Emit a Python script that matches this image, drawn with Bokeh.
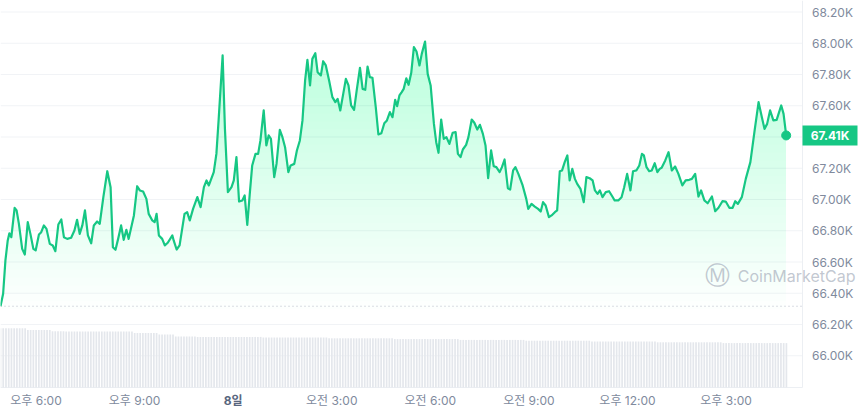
import numpy as np
from bokeh.plotting import figure
from bokeh.models import Range1d
from bokeh.embed import file_html
from bokeh.resources import INLINE

# ---- data (hours since 00:00 of the 7th, price in USD) ----
time_h = [16.92,17.00,17.07,17.14,17.19,17.25,17.35,17.41,17.48,17.58,17.66,17.75,17.83,17.92,17.99,18.09,18.16,18.24,18.32,18.42,
          18.51,18.59,18.68,18.77,18.85,18.95,19.07,19.17,19.25,19.33,19.41,19.49,19.58,19.68,19.76,19.86,19.94,20.05,20.17,20.27,
          20.34,20.42,20.50,20.59,20.67,20.75,20.82,
          20.98,21.08,21.16,21.26,21.36,21.43,21.54,21.61,21.67,21.74,21.84,21.92,22.01,22.15,22.19,22.28,22.37,22.52,22.60,22.68,
          22.78,22.91,23.01,23.11,23.19,23.26,23.41,23.49,23.56,23.68,23.75,23.84,23.95,24.02,24.10,24.18,24.28,24.35,24.43,24.51,
          24.58,24.68,24.76,24.83,24.93,
          25.01,25.08,25.15,25.25,25.32,25.42,25.50,25.58,25.68,25.75,25.86,25.94,26.03,26.11,26.19,26.26,26.34,26.41,26.50,26.57,
          26.67,26.74,26.82,26.92,27.02,27.11,27.18,27.26,27.35,27.43,27.51,27.59,27.68,27.76,27.86,27.94,28.02,28.09,28.16,28.24,
          28.34,28.42,28.51,28.60,28.68,28.77,28.85,28.93,
          28.99,29.06,29.13,29.19,29.27,29.34,29.42,29.50,29.58,29.67,29.74,29.84,29.92,30.01,30.11,30.18,30.25,30.33,30.41,30.49,
          30.58,30.68,30.77,30.84,30.92,30.99,31.09,31.16,31.26,31.34,31.43,31.51,31.60,31.68,31.76,31.85,31.93,32.01,32.11,32.18,
          32.26,32.36,32.43,32.52,32.59,32.68,32.81,32.92,32.98,
          33.08,33.18,33.28,33.36,33.43,33.51,33.61,33.69,33.79,33.86,33.94,34.01,34.09,34.17,34.24,34.32,34.40,34.47,34.57,34.67,
          34.75,34.85,34.94,35.01,35.09,35.16,35.24,35.34,35.44,35.54,35.61,35.72,35.82,35.90,35.99,36.09,36.17,36.27,36.36,36.44,
          36.50,36.58,36.66,36.74,36.83,36.91,36.98,
          37.04,37.15,37.25,37.35,37.45,37.55,37.67,37.77,37.88,37.96,38.06,38.16,38.24,38.34,38.44,38.57,38.67,38.77,38.89,38.99,
          39.10,39.20,39.28,39.36,39.48,39.60,39.74,39.87,39.99,40.09,40.17,40.25,40.34,40.44,40.54,40.68,40.75,40.83]

price = [66317,66397,66610,66738,66784,66759,66947,66930,66844,66684,66648,66855,66780,66684,66674,66776,66791,66834,66812,66716,
         66706,66669,66840,66872,66759,66748,66755,66802,66870,66780,66834,66930,66770,66720,66834,66859,66844,67015,67181,67079,
         66695,66678,66748,66834,66742,66806,66748,
         66898,67085,67058,67051,67004,66908,66866,66855,66908,66770,66748,66706,66723,66770,66738,66680,66706,66908,66919,66866,
         66940,67015,66951,67079,67122,67090,67175,67292,67516,67922,67452,67047,67079,67122,67271,66987,66994,67026,66838,67047,
         67218,67292,67292,67378,67570,
         67346,67410,67388,67143,67228,67446,67399,67335,67175,67218,67228,67314,67378,67506,67762,67894,67730,67900,67936,67815,
         67794,67885,67858,67762,67655,67623,67644,67570,67676,67772,67730,67602,67574,67698,67843,67708,67702,67851,67783,67779,
         67591,67416,67424,67488,67506,67559,67527,67638,
         67597,67666,67687,67708,67776,67734,67811,67975,67947,67858,67932,68011,67804,67730,67484,67367,67299,67512,67388,67399,
         67356,67427,67431,67292,67271,67320,67350,67399,67512,67491,67448,67478,67420,67346,67136,67314,67213,67207,67175,67207,
         67256,67072,67064,67186,67207,67164,67090,67004,66940,
         66972,66955,66940,66923,66983,66962,66887,66898,66919,66930,67181,67186,67239,67282,67122,67196,67132,67100,67068,66983,
         67143,67136,67122,67058,67036,67058,67015,67047,67053,67019,66994,66994,67015,67079,67164,67058,67181,67186,67218,67292,
         67282,67207,67181,67186,67232,67175,67196,
         67203,67250,67303,67186,67211,67164,67090,67122,67126,67132,67164,67019,67058,66994,66976,67019,66925,66947,66989,66987,
         66947,66947,66989,66972,67015,67132,67239,67442,67623,67527,67452,67484,67570,67506,67510,67602,67548,67410]

# 5-minute volume bars (billions USD), starting at the first price time
vol_start_h = 16.92
volume = [29.6,29.6,29.6,29.6,29.6,29.6,29.6,29.6,29.6,29.6,28.8,28.8,28.8,28.8,28.8,28.8,28.8,28.8,28.8,28.1,28.1,28.1,28.1,28.1,
          28.0,28.0,28.0,28.0,28.0,28.0,28.0,28.0,28.0,28.0,28.0,28.0,28.0,28.0,28.0,28.0,28.0,28.0,28.0,28.0,28.0,28.0,28.0,28.0,
          28.0,27.3,27.3,27.3,27.3,27.3,27.3,27.3,27.3,27.3,26.5,26.5,26.5,26.5,26.5,26.5,25.5,25.5,25.5,25.5,25.5,25.5,25.5,25.5,
          25.3,25.3,25.3,25.3,25.3,25.3,25.3,25.3,25.3,25.3,25.3,25.3,25.3,25.3,25.3,25.3,25.3,25.3,25.3,25.3,25.3,25.3,25.3,25.3,
          25.0,25.0,25.0,25.0,25.0,25.0,25.0,25.0,25.0,25.0,25.0,25.0,25.0,25.0,25.0,25.0,25.0,25.0,25.0,25.0,25.0,25.0,25.0,25.0,
          24.6,24.6,24.6,24.6,24.6,24.6,24.6,24.6,24.6,24.6,24.6,24.6,24.6,24.6,24.6,24.6,24.6,24.6,24.6,24.6,24.6,24.6,24.6,24.6,
          24.2,24.2,24.2,24.2,24.2,24.2,24.2,24.2,24.2,24.2,24.2,24.2,24.2,24.2,24.2,24.2,24.2,24.2,24.2,24.2,24.2,24.2,24.2,24.2,
          23.8,23.8,23.8,23.8,23.8,23.8,23.8,23.8,23.8,23.8,23.8,23.8,23.8,23.8,23.8,23.8,23.8,23.8,23.8,23.8,23.8,23.8,23.8,23.8,
          23.4,23.4,23.4,23.4,23.4,23.4,23.4,23.4,23.4,23.4,23.4,23.4,23.4,23.4,23.4,23.4,23.4,23.4,23.4,23.4,23.4,23.4,23.4,23.4,
          23.0,23.0,23.0,23.0,23.0,23.0,23.0,23.0,23.0,23.0,23.0,23.0,23.0,23.0,23.0,23.0,23.0,23.0,23.0,23.0,23.0,23.0,23.0,23.0,
          22.6,22.6,22.6,22.6,22.6,22.6,22.6,22.6,22.6,22.6,22.6,22.6,22.6,22.6,22.6,22.6,22.6,22.6,22.6,22.6,22.6,22.6,22.6,22.6,
          22.2,22.2,22.2,22.2,22.2,22.2,22.2,22.2,22.2,22.2,22.2,22.2,22.2,22.2,22.2,22.2,22.2,22.2,22.2,22.2,22.2,22.2,22.2,22.2]

y_ticks = [66000, 66200, 66400, 66600, 66800, 67000, 67200, 67400, 67600, 67800, 68000, 68200]
y_tick_labels = ["66.00K", "66.20K", "66.40K", "66.60K", "66.80K", "67.00K", "67.20K", "67.40K", "67.60K", "67.80K", "68.00K", "68.20K"]
x_ticks = [18, 21, 24, 27, 30, 33, 36, 39]
x_tick_labels = ["오후 6:00", "오후 9:00", "8일", "오전 3:00", "오전 6:00", "오전 9:00", "오후 12:00", "오후 3:00"]
last_label = "67.41K"
watermark = "CoinMarketCap"

# ---- layout / styling ----
GREEN = "#16c784"
FONT = "Inter, 'Noto Sans CJK KR', sans-serif"
LABEL_C = "#808a9d"
W, H = 860, 412
PX_X = 0.030432            # hours per pixel
PX_Y = 6.4                 # USD per pixel
X0 = time_h[0]             # plot area starts at canvas left
X_PLOT_END = X0 + 802 * PX_X
X_CANVAS_END = X0 + W * PX_X
Y_TOP = 68273.6
Y_BOTTOM = Y_TOP - H * PX_Y
Y_PLOT_BOTTOM = Y_TOP - 387 * PX_Y
VOL_PX = 2.0               # pixels per billion
vol_lo = -(H - 387) / VOL_PX

def px_x(n):
    return n * PX_X

def px_y(n):
    return n * PX_Y

p = figure(width=W, height=H, output_backend="svg", toolbar_location=None,
           x_range=Range1d(X0, X_CANVAS_END), y_range=Range1d(Y_BOTTOM, Y_TOP),
           x_axis_location=None, y_axis_location=None, min_border=0,
           background_fill_color="white", border_fill_color="white")
p.outline_line_color = None
p.grid.visible = False
p.extra_y_ranges = {"vol": Range1d(vol_lo, vol_lo + H / VOL_PX)}

# horizontal grid lines limited to the plot area
p.segment(x0=[X0] * len(y_ticks), x1=[X_PLOT_END] * len(y_ticks), y0=y_ticks, y1=y_ticks,
          line_color="#f1f3f6", line_width=1)
# frame borders (right and bottom)
p.segment(x0=[X_PLOT_END, X0], x1=[X_PLOT_END, X_PLOT_END], y0=[Y_PLOT_BOTTOM, Y_PLOT_BOTTOM],
          y1=[Y_TOP, Y_PLOT_BOTTOM], line_color="#eceff3", line_width=1)

# volume bars
vol_t = [vol_start_h + i * 5 / 60 for i in range(len(volume))]
p.vbar(x=vol_t, top=volume, bottom=0, width=5 / 60 * 0.62, y_range_name="vol",
       fill_color="#e4e7ec", line_color=None)

t = np.array(time_h)
pr = np.array(price, dtype=float)

# gradient fill under the line
levels = np.linspace(66300, 68250, 40)
for L in levels:
    p.varea(x=t, y1=np.full_like(pr, L), y2=np.maximum(pr, L), fill_color=GREEN, fill_alpha=0.0085)

# open-price dotted reference
p.segment(x0=[X0], x1=[X_PLOT_END], y0=[price[0]], y1=[price[0]], line_color="#b4bbc8",
          line_width=1, line_dash="1 3")

p.line(t, pr, line_color=GREEN, line_width=2.2, line_join="round")
p.scatter([time_h[-1]], [price[-1]], size=9, color=GREEN)

# y tick labels (right side)
p.text(x=[X_PLOT_END + px_x(9.5)] * len(y_ticks), y=y_ticks, text=y_tick_labels,
       text_align="left", text_baseline="middle", text_font={"value": FONT},
       text_font_size="12px", text_color=LABEL_C)

# x tick labels (below)
x_lab_y = Y_PLOT_BOTTOM - px_y(13)
norm = [i for i, s in enumerate(x_tick_labels) if s != "8일"]
p.text(x=[x_ticks[i] for i in norm], y=[x_lab_y] * len(norm), text=[x_tick_labels[i] for i in norm],
       text_align="center", text_baseline="middle", text_font={"value": FONT},
       text_font_size="12px", text_color=LABEL_C)
bold = [i for i, s in enumerate(x_tick_labels) if s == "8일"]
p.text(x=[x_ticks[i] for i in bold], y=[x_lab_y] * len(bold), text=[x_tick_labels[i] for i in bold],
       text_align="center", text_baseline="middle", text_font={"value": FONT},
       text_font_size="12px", text_font_style="bold", text_color="#58667e")

# last price badge
p.quad(left=[X_PLOT_END], right=[X_PLOT_END + px_x(55)], bottom=[price[-1] - px_y(10)],
       top=[price[-1] + px_y(10)], fill_color=GREEN, line_color=None)
p.text(x=[X_PLOT_END + px_x(27.5)], y=[price[-1]], text=[last_label], text_align="center",
       text_baseline="middle", text_font={"value": FONT}, text_font_size="12px",
       text_font_style="bold", text_color="white")

# watermark
wm_y = Y_TOP - px_y(275)
p.text(x=[X0 + px_x(855)], y=[wm_y], text=[watermark], text_align="right", text_baseline="middle",
       text_font={"value": FONT}, text_font_size="16px",
       text_color="#a8afbd", text_alpha=0.7)
p.text(x=[X0 + px_x(717)], y=[wm_y], text=["Ⓜ"], text_align="center", text_baseline="middle",
       text_font={"value": "DejaVu Sans"}, text_font_size="25px", text_color="#a8afbd", text_alpha=0.7)

open("out.html", "w").write(file_html(p, INLINE))
